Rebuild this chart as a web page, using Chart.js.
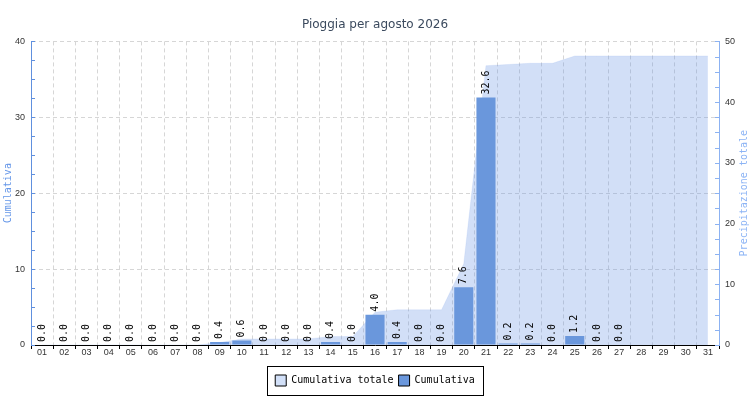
<!DOCTYPE html>
<html>
<head>
<meta charset="utf-8">
<title>Pioggia per agosto 2026</title>
<script src="https://cdn.jsdelivr.net/npm/chart.js@4/dist/chart.umd.min.js"></script>
<style>
    body { margin: 0; background: #fff; }
    #box { width: 750px; height: 400px; position: relative; }
</style>
</head>
<body>
<div id="box"><canvas id="myChart"></canvas></div>
<script>
var giorni = ['01', '02', '03', '04', '05', '06', '07', '08', '09', '10', '11', '12', '13', '14', '15', '16',
    '17', '18', '19', '20', '21', '22', '23', '24', '25', '26', '27', '28', '29', '30', '31'];
// pioggia del giorno (mm), null = giorno non ancora arrivato
var pioggia = [0.0, 0.0, 0.0, 0.0, 0.0, 0.0, 0.0, 0.0, 0.4, 0.6, 0.0, 0.0, 0.0, 0.4, 0.0, 4.0,
    0.4, 0.0, 0.0, 7.6, 32.6, 0.2, 0.2, 0.0, 1.2, 0.0, 0.0, null, null, null, null];
// precipitazione totale del mese
var totale = [0, 0, 0, 0, 0, 0, 0, 0, 0.4, 1.0, 1.0, 1.0, 1.0, 1.4, 1.4, 5.4,
    5.8, 5.8, 5.8, 13.4, 46.0, 46.2, 46.4, 46.4, 47.6, 47.6, 47.6, 47.6, 47.6, 47.6, 47.6];
var tickSx = [0, 10, 20, 30, 40];
var tickDx = [0, 10, 20, 30, 40, 50];

var MONO = '"DejaVu Sans Mono", monospace';
var blu = 'rgb(106,151,220)';
var azzurro = 'rgba(106,150,230,0.3)';
var asseSx = 'rgb(96,144,222)';
var asseDx = 'rgb(140,178,242)';

// etichette ruotate sopra le barre
var valoriBarre = {
    id: 'valoriBarre',
    afterDatasetsDraw: function (chart) {
        var ctx = chart.ctx;
        var meta = chart.getDatasetMeta(1);
        ctx.save();
        ctx.font = '10px ' + MONO;
        ctx.fillStyle = '#000';
        ctx.textAlign = 'left';
        ctx.textBaseline = 'middle';
        meta.data.forEach(function (bar, i) {
            if (pioggia[i] === null) return;
            ctx.save();
            ctx.translate(bar.x, bar.y - 3);
            ctx.rotate(-Math.PI / 2);
            ctx.fillText(pioggia[i].toFixed(1), 0, 0);
            ctx.restore();
        });
        ctx.restore();
    }
};

// tacche interne, titoli degli assi, cornice della legenda
var rifiniture = {
    id: 'rifiniture',
    afterDraw: function (chart) {
        var ctx = chart.ctx;
        var area = chart.chartArea;
        var y = chart.scales.y, y1 = chart.scales.y1;
        ctx.save();
        ctx.lineWidth = 1;
        ctx.strokeStyle = asseSx;
        y.ticks.forEach(function (t) {
            var py = Math.round(y.getPixelForValue(t.value)) + 0.5;
            ctx.beginPath();
            ctx.moveTo(area.left, py);
            ctx.lineTo(area.left + 4, py);
            ctx.stroke();
        });
        ctx.strokeStyle = asseDx;
        y1.ticks.forEach(function (t) {
            var py = Math.round(y1.getPixelForValue(t.value)) + 0.5;
            ctx.beginPath();
            ctx.moveTo(area.right - 4, py);
            ctx.lineTo(area.right, py);
            ctx.stroke();
        });

        var mid = (area.top + area.bottom) / 2;
        ctx.font = '10px ' + MONO;
        ctx.textAlign = 'center';
        ctx.textBaseline = 'middle';
        ctx.fillStyle = 'rgb(100,150,232)';
        ctx.save();
        ctx.translate(8, mid);
        ctx.rotate(-Math.PI / 2);
        ctx.fillText('Cumulativa', 0, 0);
        ctx.restore();
        ctx.fillStyle = 'rgb(140,180,245)';
        ctx.save();
        ctx.translate(744, mid);
        ctx.rotate(-Math.PI / 2);
        ctx.fillText('Precipitazione totale', 0, 0);
        ctx.restore();

        var hb = chart.legend.legendHitBoxes;
        if (hb && hb.length) {
            var l = hb[0].left, r = hb[hb.length - 1].left + hb[hb.length - 1].width;
            var t = hb[0].top, b = hb[0].top + hb[0].height;
            ctx.strokeStyle = '#000';
            ctx.strokeRect(Math.round(l - 8) + 0.5, Math.round(t - 9) + 0.5, Math.round(r - l + 16), Math.round(b - t + 18));
        }
        ctx.restore();
    }
};

var ctx = document.getElementById('myChart').getContext('2d');
var chart = new Chart(ctx, {
    data: {
        labels: giorni,
        datasets: [{
            type: 'line',
            label: 'Cumulativa totale',
            data: totale,
            yAxisID: 'y1',
            fill: 'origin',
            backgroundColor: azzurro,
            borderColor: 'rgba(106,150,230,0.12)',
            borderWidth: 1,
            pointRadius: 0,
            tension: 0,
            order: 2
        }, {
            type: 'bar',
            label: 'Cumulativa',
            data: pioggia,
            yAxisID: 'y',
            backgroundColor: blu,
            categoryPercentage: 1,
            barPercentage: 0.86,
            order: 1
        }]
    },
    options: {
        responsive: true,
        maintainAspectRatio: false,
        animation: false,
        layout: { padding: { left: 0, right: 0, top: 0, bottom: 4 } },
        plugins: {
            title: {
                display: true,
                text: 'Pioggia per agosto 2026',
                color: '#3b4a5e',
                font: { family: '"DejaVu Sans"', size: 12, weight: 'normal' },
                padding: { top: 18, bottom: 9 }
            },
            legend: {
                position: 'bottom',
                labels: {
                    color: '#000',
                    font: { family: MONO, size: 10 },
                    boxWidth: 11,
                    boxHeight: 11,
                    padding: 5,
                    sort: function (a, b) { return a.datasetIndex - b.datasetIndex; },
                    generateLabels: function (chart) {
                        var items = Chart.defaults.plugins.legend.labels.generateLabels(chart);
                        items.forEach(function (it) {
                            it.strokeStyle = '#000';
                            it.lineWidth = 1;
                            it.fillStyle = it.datasetIndex === 0 ? 'rgb(210,224,248)' : blu;
                        });
                        return items;
                    }
                }
            },
            tooltip: { enabled: false }
        },
        scales: {
            x: {
                offset: true,
                grid: { offset: true, color: '#d6d6d6', tickColor: '#000', tickLength: 4 },
                border: { color: '#000', dash: [4, 3] },
                ticks: { color: '#333', padding: -2, maxRotation: 0, autoSkip: false,
                    font: { family: '"Liberation Sans"', size: 9 } },
                afterFit: function (s) { s.height = 25; }
            },
            y: {
                position: 'left',
                min: 0,
                max: 40,
                ticks: {
                    stepSize: 2.5,
                    autoSkip: false,
                    padding: 6,
                    color: '#333',
                    font: { family: '"Liberation Sans"', size: 9 },
                    callback: function (v) { return tickSx.indexOf(v) >= 0 ? v : ''; }
                },
                grid: {
                    drawTicks: false,
                    color: function (c) {
                        return c.tick && c.tick.value > 0 && c.tick.value % 10 === 0 ? '#d6d6d6' : 'rgba(0,0,0,0)';
                    }
                },
                border: { color: asseSx, dash: [4, 3] },
                afterFit: function (s) { s.width = 31; }
            },
            y1: {
                position: 'right',
                min: 0,
                max: 50,
                ticks: {
                    stepSize: 2.5,
                    autoSkip: false,
                    padding: 6,
                    color: '#333',
                    font: { family: '"Liberation Sans"', size: 9 },
                    callback: function (v) { return tickDx.indexOf(v) >= 0 ? v : ''; }
                },
                grid: { drawTicks: false, drawOnChartArea: false },
                border: { color: asseDx },
                afterFit: function (s) { s.width = 31; }
            }
        }
    },
    plugins: [valoriBarre, rifiniture]
});
</script>
</body>
</html>
